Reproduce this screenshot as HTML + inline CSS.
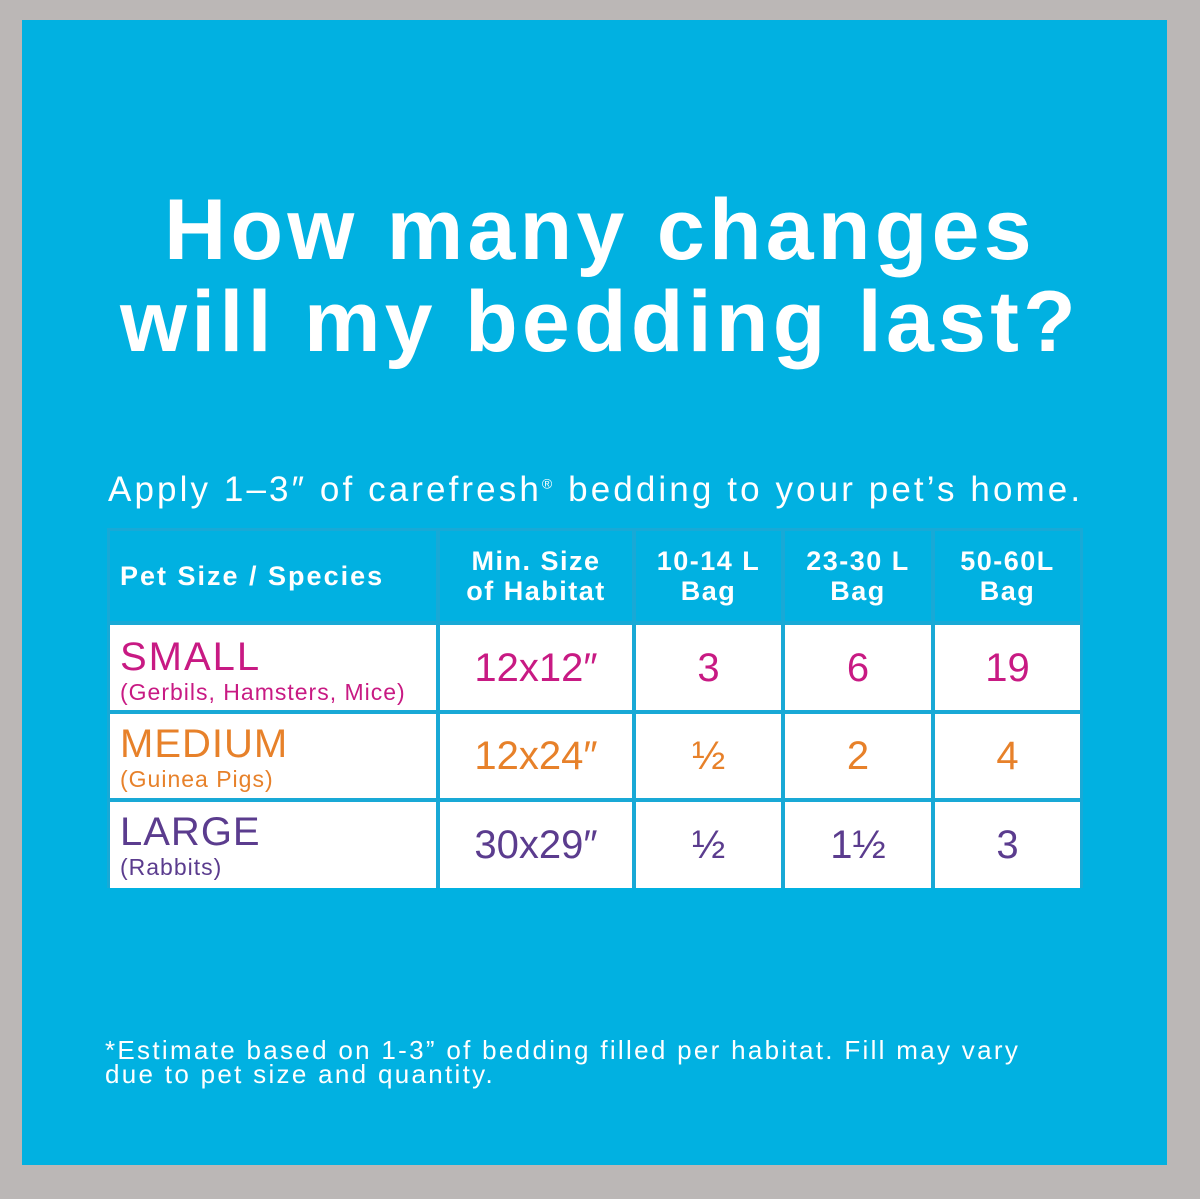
<!DOCTYPE html>
<html><head><style>
body{margin:0;width:1200px;height:1199px;background:#bbb7b6;position:relative;overflow:hidden;font-family:"Liberation Sans",sans-serif}
.panel{position:absolute;left:22px;top:20px;width:1145px;height:1145px;background:#01b1e1}
.a{position:absolute;white-space:nowrap}
.c{position:absolute;text-align:center;display:flex;align-items:center;justify-content:center;flex-direction:column;line-height:30px}
.w{background:#fff}
.h{letter-spacing:1.5px}
</style></head><body>
<div class="panel"></div>
<div class="a" style="left:0;width:1200px;top:184px;text-align:center;color:#fff;font-size:86px;font-weight:bold;line-height:92px;letter-spacing:4.3px">How many changes<br>will my bedding last?</div>
<div class="a" style="left:108px;top:470px;color:#fff;font-size:35px;letter-spacing:3.1px">Apply 1–3″ of carefresh<sup style="font-size:14px">®</sup> bedding to your pet’s home.</div>
<!-- table -->
<div class="a" style="left:107px;top:528px;width:976px;height:360px;background:#19a9d6"></div>
<div class="c h" style="left:110px;top:531px;width:326px;height:90px;background:#01b1e1;color:#fff;font-size:27px;font-weight:bold;align-items:flex-start;padding-left:10px;box-sizing:border-box;letter-spacing:2px">Pet Size / Species</div>
<div class="c h" style="left:440px;top:531px;width:192px;height:90px;background:#01b1e1;color:#fff;font-size:27px;font-weight:bold">Min. Size<br>of Habitat</div>
<div class="c h" style="left:636px;top:531px;width:145px;height:90px;background:#01b1e1;color:#fff;font-size:27px;font-weight:bold">10-14 L<br>Bag</div>
<div class="c h" style="left:785px;top:531px;width:146px;height:90px;background:#01b1e1;color:#fff;font-size:27px;font-weight:bold">23-30 L<br>Bag</div>
<div class="c h" style="left:935px;top:531px;width:145px;height:90px;background:#01b1e1;color:#fff;font-size:27px;font-weight:bold">50-60L<br>Bag</div>

<div class="a w" style="left:110px;top:625px;width:326px;height:85px;color:#c81a83"><div style="position:absolute;left:10px;top:10px;font-size:40px;letter-spacing:2px">SMALL</div><div style="position:absolute;left:10px;top:54px;font-size:23px;letter-spacing:1px">(Gerbils, Hamsters, Mice)</div></div>
<div class="c w" style="left:440px;top:625px;width:192px;height:85px;color:#c81a83;font-size:40px">12x12″</div>
<div class="c w" style="left:636px;top:625px;width:145px;height:85px;color:#c81a83;font-size:40px">3</div>
<div class="c w" style="left:785px;top:625px;width:146px;height:85px;color:#c81a83;font-size:40px">6</div>
<div class="c w" style="left:935px;top:625px;width:145px;height:85px;color:#c81a83;font-size:40px">19</div>

<div class="a w" style="left:110px;top:714px;width:326px;height:84px;color:#e7812a"><div style="position:absolute;left:10px;top:8px;font-size:40px;letter-spacing:1px">MEDIUM</div><div style="position:absolute;left:10px;top:52px;font-size:23px;letter-spacing:1px">(Guinea Pigs)</div></div>
<div class="c w" style="left:440px;top:714px;width:192px;height:84px;color:#e7812a;font-size:40px">12x24″</div>
<div class="c w" style="left:636px;top:714px;width:145px;height:84px;color:#e7812a;font-size:40px">½</div>
<div class="c w" style="left:785px;top:714px;width:146px;height:84px;color:#e7812a;font-size:40px">2</div>
<div class="c w" style="left:935px;top:714px;width:145px;height:84px;color:#e7812a;font-size:40px">4</div>

<div class="a w" style="left:110px;top:802px;width:326px;height:86px;color:#5b3c8e"><div style="position:absolute;left:10px;top:8px;font-size:40px;letter-spacing:1px">LARGE</div><div style="position:absolute;left:10px;top:52px;font-size:23px;letter-spacing:1px">(Rabbits)</div></div>
<div class="c w" style="left:440px;top:802px;width:192px;height:86px;color:#5b3c8e;font-size:40px">30x29″</div>
<div class="c w" style="left:636px;top:802px;width:145px;height:86px;color:#5b3c8e;font-size:40px">½</div>
<div class="c w" style="left:785px;top:802px;width:146px;height:86px;color:#5b3c8e;font-size:40px">1½</div>
<div class="c w" style="left:935px;top:802px;width:145px;height:86px;color:#5b3c8e;font-size:40px">3</div>

<div class="a" style="left:105px;top:1038px;color:#fff;font-size:26px;line-height:24px;letter-spacing:2.3px">*Estimate based on 1-3” of bedding filled per habitat. Fill may vary<br>due to pet size and quantity.</div>
</body></html>
